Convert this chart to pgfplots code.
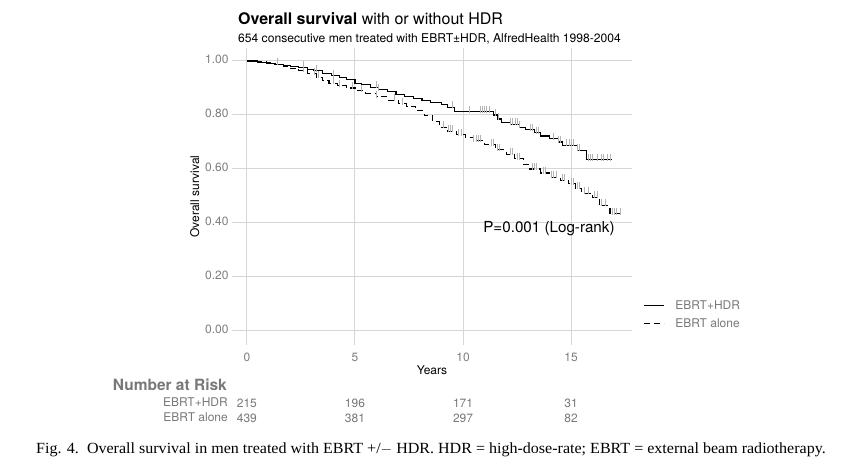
\documentclass[border=0pt]{standalone}
\usepackage{pgfplots}
\pgfplotsset{compat=1.18}
\usepackage{fontspec}
\setmainfont{TeX Gyre Heros}
\newfontfamily\capfont{Liberation Serif}
\definecolor{gridc}{RGB}{214,214,214}
\definecolor{tickc}{RGB}{125,125,125}
\definecolor{censc}{RGB}{180,180,180}
\definecolor{riskc}{RGB}{120,120,120}
\begin{document}
\begin{tikzpicture}[x=1pt,y=1pt]
\path[use as bounding box] (0,0) rectangle (844,470);
\begin{axis}[
  at={(232pt,125pt)}, anchor=south west,
  width=400pt, height=297pt, scale only axis,
  xmin=-0.69, xmax=17.82, ymin=-0.052, ymax=1.048,
  axis line style={draw=none},
  major tick length=0pt,
  grid=major, grid style={gridc, line width=1pt},
  xtick={0,5,10,15}, ytick={0,0.2,0.4,0.6,0.8,1.0},
  yticklabel style={/pgf/number format/.cd,fixed,fixed zerofill,precision=2},
  /pgf/number format/assume math mode=true,
  typeset ticklabels with strut,
  tick label style={font=\fontsize{12}{14}\selectfont, text=tickc},
  xticklabel style={yshift=-3pt},
  xlabel={Years}, ylabel={Overall survival},
  label style={font=\fontsize{12}{14}\selectfont},
  xlabel style={yshift=6.5pt},
  ylabel style={yshift=-1pt},
  clip=false,
  legend style={at={(1.02,0.102)}, anchor=west, draw=none, fill=none,
    font=\fontsize{12}{14}\selectfont\color{riskc}, row sep=4pt,
    /tikz/every odd column/.append style={column sep=9pt}},
  legend cell align=left,
  legend image code/.code={\draw[#1] (0pt,0pt) -- (20pt,0pt);},
]
\addplot[const plot, black, line width=1.1pt] coordinates {
(0,1.000)(0.5,0.995)(0.9,0.992)(1.3,0.988)(1.7,0.984)(2.0,0.980)(2.4,0.976)
(2.8,0.970)(3.1,0.963)(3.5,0.955)(3.9,0.946)(4.3,0.938)(4.6,0.930)(5.0,0.918)
(5.3,0.912)(5.7,0.903)(6.1,0.893)(6.5,0.886)(6.9,0.875)(7.3,0.868)(7.7,0.860)
(8.1,0.852)(8.5,0.846)(9.0,0.840)(9.3,0.828)(9.6,0.812)(11.4,0.800)(11.6,0.785)
(11.8,0.772)(12.2,0.765)(12.6,0.755)(12.9,0.745)(13.3,0.735)(13.6,0.722)
(14.0,0.712)(14.4,0.700)(14.6,0.688)(15.3,0.670)(15.7,0.635)(16.9,0.635)};
\addlegendentry{EBRT+HDR}
\addplot[const plot, black, line width=1.1pt, dash pattern=on 6pt off 4pt] coordinates {
(0,1.000)(0.5,0.997)(0.9,0.993)(1.3,0.987)(1.7,0.980)(2.0,0.973)(2.4,0.963)
(2.8,0.952)(3.2,0.940)(3.5,0.928)(3.8,0.918)(4.2,0.909)(4.6,0.900)(5.0,0.890)
(5.5,0.880)(6.0,0.868)(6.5,0.855)(7.0,0.842)(7.4,0.831)(7.8,0.815)(8.2,0.797)
(8.6,0.775)(8.9,0.755)(9.3,0.740)(9.7,0.727)(10.1,0.715)(10.5,0.705)(11.0,0.690)
(11.5,0.672)(12.0,0.655)(12.4,0.638)(12.8,0.615)(13.1,0.600)(13.6,0.585)
(14.0,0.570)(14.5,0.558)(14.9,0.545)(15.2,0.528)(15.5,0.510)(16.0,0.495)
(16.3,0.465)(16.8,0.435)(17.4,0.435)};
\addlegendentry{EBRT alone}
% censoring marks
\addplot[only marks, mark=|, mark size=3.5pt, censc, line width=0.7pt,
  every mark/.append style={yshift=2.5pt}, forget plot] coordinates {
(1.4,0.988)(2.6,0.976)(3.2,0.963)(4.0,0.946)(6.0,0.903)(6.1,0.893)(9.5,0.828)
(10.3,0.812)(10.8,0.812)(10.9,0.812)(11.0,0.812)(11.1,0.812)(11.2,0.812)
(11.5,0.800)(11.65,0.785)(12.2,0.765)(12.3,0.765)(12.4,0.765)(12.5,0.765)
(12.6,0.755)(13.1,0.745)(13.2,0.745)(13.4,0.735)(13.5,0.735)(14.2,0.712)
(14.4,0.700)(14.5,0.700)(14.8,0.688)(14.9,0.688)(15.0,0.688)(15.1,0.688)
(15.3,0.670)(15.4,0.670)(15.8,0.635)(15.9,0.635)(16.0,0.635)(16.2,0.635)
(16.4,0.635)(16.5,0.635)(16.7,0.635)(16.8,0.635)};
\addplot[only marks, mark=|, mark size=3.5pt, censc, line width=0.7pt,
  every mark/.append style={yshift=2.5pt}, forget plot] coordinates {
(2.6,0.963)(3.1,0.952)(3.3,0.940)(4.0,0.918)(4.3,0.909)(4.9,0.900)(5.3,0.890)
(6.0,0.868)(6.8,0.855)(7.2,0.842)(9.1,0.755)(9.3,0.740)(9.4,0.740)(9.5,0.740)
(9.8,0.727)(9.9,0.727)(10.5,0.705)(10.6,0.705)(10.7,0.705)(10.8,0.705)
(11.3,0.690)(11.4,0.690)(11.6,0.672)(11.7,0.672)(12.2,0.655)(12.3,0.655)
(12.5,0.638)(12.6,0.638)(13.2,0.600)(13.3,0.600)(13.4,0.600)(13.7,0.585)
(13.8,0.585)(14.1,0.570)(14.2,0.570)(14.3,0.570)(14.6,0.558)(14.7,0.558)
(15.0,0.545)(15.1,0.545)(15.3,0.528)(15.4,0.528)(15.6,0.510)(15.8,0.510)
(16.1,0.495)(16.2,0.495)(16.4,0.465)(16.6,0.465)(16.9,0.435)(17.0,0.435)
(17.1,0.435)(17.3,0.435)};
\node[anchor=west, font=\fontsize{15.2}{17}\selectfont, inner sep=0pt] at (axis cs:10.93,0.378) {P=0.001 (Log-rank)};
% number at risk
\node[font=\fontsize{12}{14}\selectfont, text=riskc, inner sep=0pt] at (axis cs:0,-0.268) {215};
\node[font=\fontsize{12}{14}\selectfont, text=riskc, inner sep=0pt] at (axis cs:5,-0.268) {196};
\node[font=\fontsize{12}{14}\selectfont, text=riskc, inner sep=0pt] at (axis cs:10,-0.268) {171};
\node[font=\fontsize{12}{14}\selectfont, text=riskc, inner sep=0pt] at (axis cs:15,-0.268) {31};
\node[font=\fontsize{12}{14}\selectfont, text=riskc, inner sep=0pt] at (axis cs:0,-0.324) {439};
\node[font=\fontsize{12}{14}\selectfont, text=riskc, inner sep=0pt] at (axis cs:5,-0.324) {381};
\node[font=\fontsize{12}{14}\selectfont, text=riskc, inner sep=0pt] at (axis cs:10,-0.324) {297};
\node[font=\fontsize{12}{14}\selectfont, text=riskc, inner sep=0pt] at (axis cs:15,-0.324) {82};
\end{axis}
\node[anchor=base west, font=\fontsize{16}{18}\selectfont, inner sep=0pt] at (238,445) {\textbf{Overall survival} with or without HDR};
\node[anchor=base west, font=\fontsize{12.1}{14}\selectfont, inner sep=0pt] at (238,427) {654 consecutive men treated with EBRT±HDR, AlfredHealth 1998-2004};
\node[anchor=base east, font=\bfseries\fontsize{15.5}{17}\selectfont, text=riskc, inner sep=0pt] at (227,79) {Number at Risk};
\node[anchor=base east, font=\fontsize{12}{14}\selectfont, text=riskc, inner sep=0pt] at (228,63.5) {EBRT+HDR};
\node[anchor=base east, font=\fontsize{12}{14}\selectfont, text=riskc, inner sep=0pt] at (228,48.5) {EBRT alone};
\node[anchor=base west, font=\capfont\fontsize{15.5}{17}\selectfont, inner sep=0pt] at (36,16) {\scalebox{1.035}[1]{Fig. 4.\ \ Overall survival in men treated with EBRT +/$-$ HDR. HDR = high-dose-rate; EBRT = external beam radiotherapy.}};
\end{tikzpicture}
\end{document}
